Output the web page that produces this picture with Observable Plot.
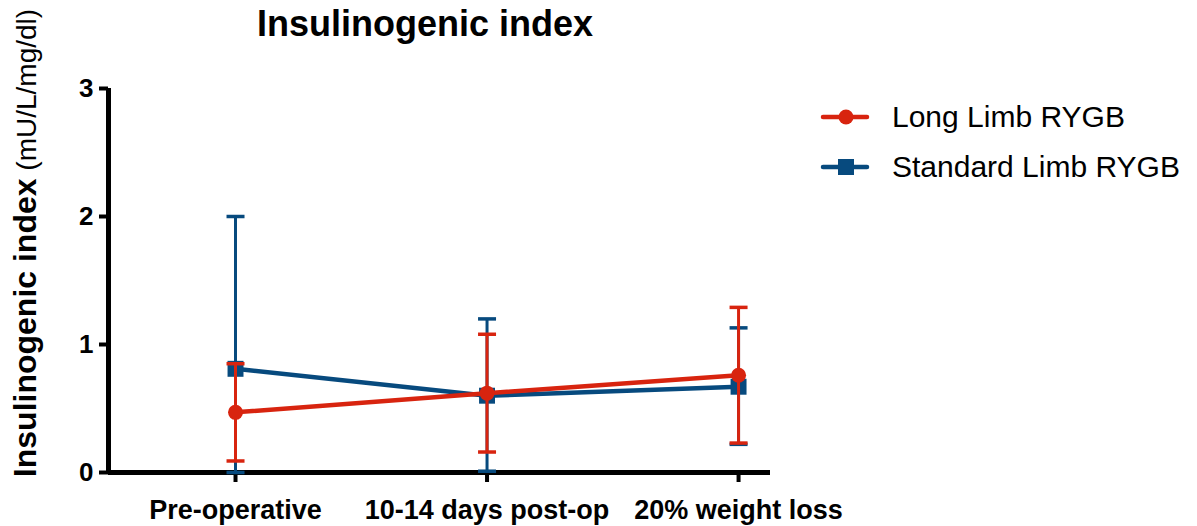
<!DOCTYPE html>
<html><head><meta charset="utf-8">
<script src="https://cdn.jsdelivr.net/npm/d3@7"></script>
<script src="https://cdn.jsdelivr.net/npm/@observablehq/plot@0.6"></script>
<style>
body{margin:0;background:#fff;font-family:"Liberation Sans",Arial,Helvetica,sans-serif;}
#wrap{position:relative;width:1197px;height:526px;overflow:hidden;}
#title{position:absolute;left:0;width:850px;top:4px;text-align:center;font-weight:bold;font-size:36px;line-height:1.1;color:#000;}
#legend{position:absolute;left:820px;top:92px;}
.lg{display:flex;align-items:center;height:50px;font-size:30px;color:#000;}
.lg svg{margin-right:22px;}
</style></head><body>
<div id="wrap"><div id="title"></div><div id="legend"></div></div>
<script>
const categories = ["Pre-operative", "10-14 days post-op", "20% weight loss"];
const seriesNames = ["Long Limb RYGB", "Standard Limb RYGB"];
const seriesColors = ["#d8240f", "#074a7e"];
const longMean = [0.47, 0.62, 0.76];
const longLow = [0.09, 0.16, 0.23];
const longHigh = [0.85, 1.08, 1.29];
const stdMean = [0.81, 0.60, 0.67];
const stdLow = [0.0, 0.01, 0.22];
const stdHigh = [2.0, 1.20, 1.13];
const yTicks = [0, 1, 2, 3];
const titleText = "Insulinogenic index";
const yLabelBold = "Insulinogenic index";
const yLabelUnit = " (mU/L/mg/dl)";

const xDomain = [-0.505, 2.127];
function rowsFor(name, mean, low, high) {
  return categories.map((c, i) => ({i, category: c, series: name, mean: mean[i], low: low[i], high: high[i]}));
}
const longRows = rowsFor(seriesNames[0], longMean, longLow, longHigh);
const stdRows = rowsFor(seriesNames[1], stdMean, stdLow, stdHigh);

const capSymbol = {draw(ctx) { ctx.moveTo(-9, 0); ctx.lineTo(9, 0); }};

function seriesMarks(rows, symbol, r) {
  return [
    Plot.ruleX(rows, {x: "i", y1: "low", y2: "high", stroke: "series", strokeWidth: 3}),
    Plot.dot(rows, {x: "i", y: "high", symbol: capSymbol, r: 5, stroke: "series", fill: "none", strokeWidth: 3.5}),
    Plot.dot(rows, {x: "i", y: "low", symbol: capSymbol, r: 5, stroke: "series", fill: "none", strokeWidth: 3.5}),
    Plot.line(rows, {x: "i", y: "mean", stroke: "series", strokeWidth: 4.5}),
    Plot.dot(rows, {x: "i", y: "mean", symbol, r, fill: "series", stroke: "none"})
  ];
}

const font = "Liberation Sans, Arial, Helvetica, sans-serif";
const plot = Plot.plot({
  width: 1197, height: 526,
  marginLeft: 108, marginRight: 427, marginTop: 88, marginBottom: 54,
  style: {fontFamily: font, background: "transparent", color: "#000"},
  x: {domain: xDomain, axis: null},
  y: {domain: [0, 3], axis: null},
  color: {domain: seriesNames, range: seriesColors},
  marks: [
    Plot.axisY(yTicks, {tickSize: 9, tickPadding: 6, strokeWidth: 4, fontSize: 26, fontWeight: "bold", label: null, tickFormat: d => d}),
    Plot.axisX([0, 1, 2], {tickSize: 10, tickPadding: 17, strokeWidth: 4, fontSize: 27, fontWeight: "bold", label: null, tickFormat: i => categories[i]}),
    Plot.ruleY([0], {strokeWidth: 5}),
    Plot.ruleX([xDomain[0]], {strokeWidth: 5}),
    ...seriesMarks(stdRows, "square", 9),
    ...seriesMarks(longRows, "circle", 7.5)
  ]
});
plot.style.position = "absolute";
plot.style.left = "0";
plot.style.top = "0";
document.getElementById("wrap").appendChild(plot);

// y-axis label with mixed weights
const svg = d3.select(plot);
const t = svg.append("text")
  .attr("transform", "translate(36,243) rotate(-90)")
  .attr("text-anchor", "middle")
  .attr("font-family", font)
  .attr("fill", "#000");
t.append("tspan").attr("font-weight", "bold").attr("font-size", 32).text(yLabelBold);
t.append("tspan").attr("font-size", 28).text(yLabelUnit);

document.getElementById("title").textContent = titleText;

// legend
const legend = d3.select("#legend");
const symbols = ["circle", "square"];
seriesNames.forEach((name, k) => {
  const row = legend.append("div").attr("class", "lg");
  const s = row.append("svg").attr("width", 50).attr("height", 20);
  s.append("line").attr("x1", 3).attr("x2", 47).attr("y1", 10).attr("y2", 10)
    .attr("stroke", seriesColors[k]).attr("stroke-width", 4.5).attr("stroke-linecap", "round");
  if (symbols[k] === "circle") s.append("circle").attr("cx", 26).attr("cy", 10).attr("r", 7.5).attr("fill", seriesColors[k]);
  else s.append("rect").attr("x", 18).attr("y", 2).attr("width", 16).attr("height", 16).attr("fill", seriesColors[k]);
  row.append("span").text(name);
});
</script>
</body></html>
